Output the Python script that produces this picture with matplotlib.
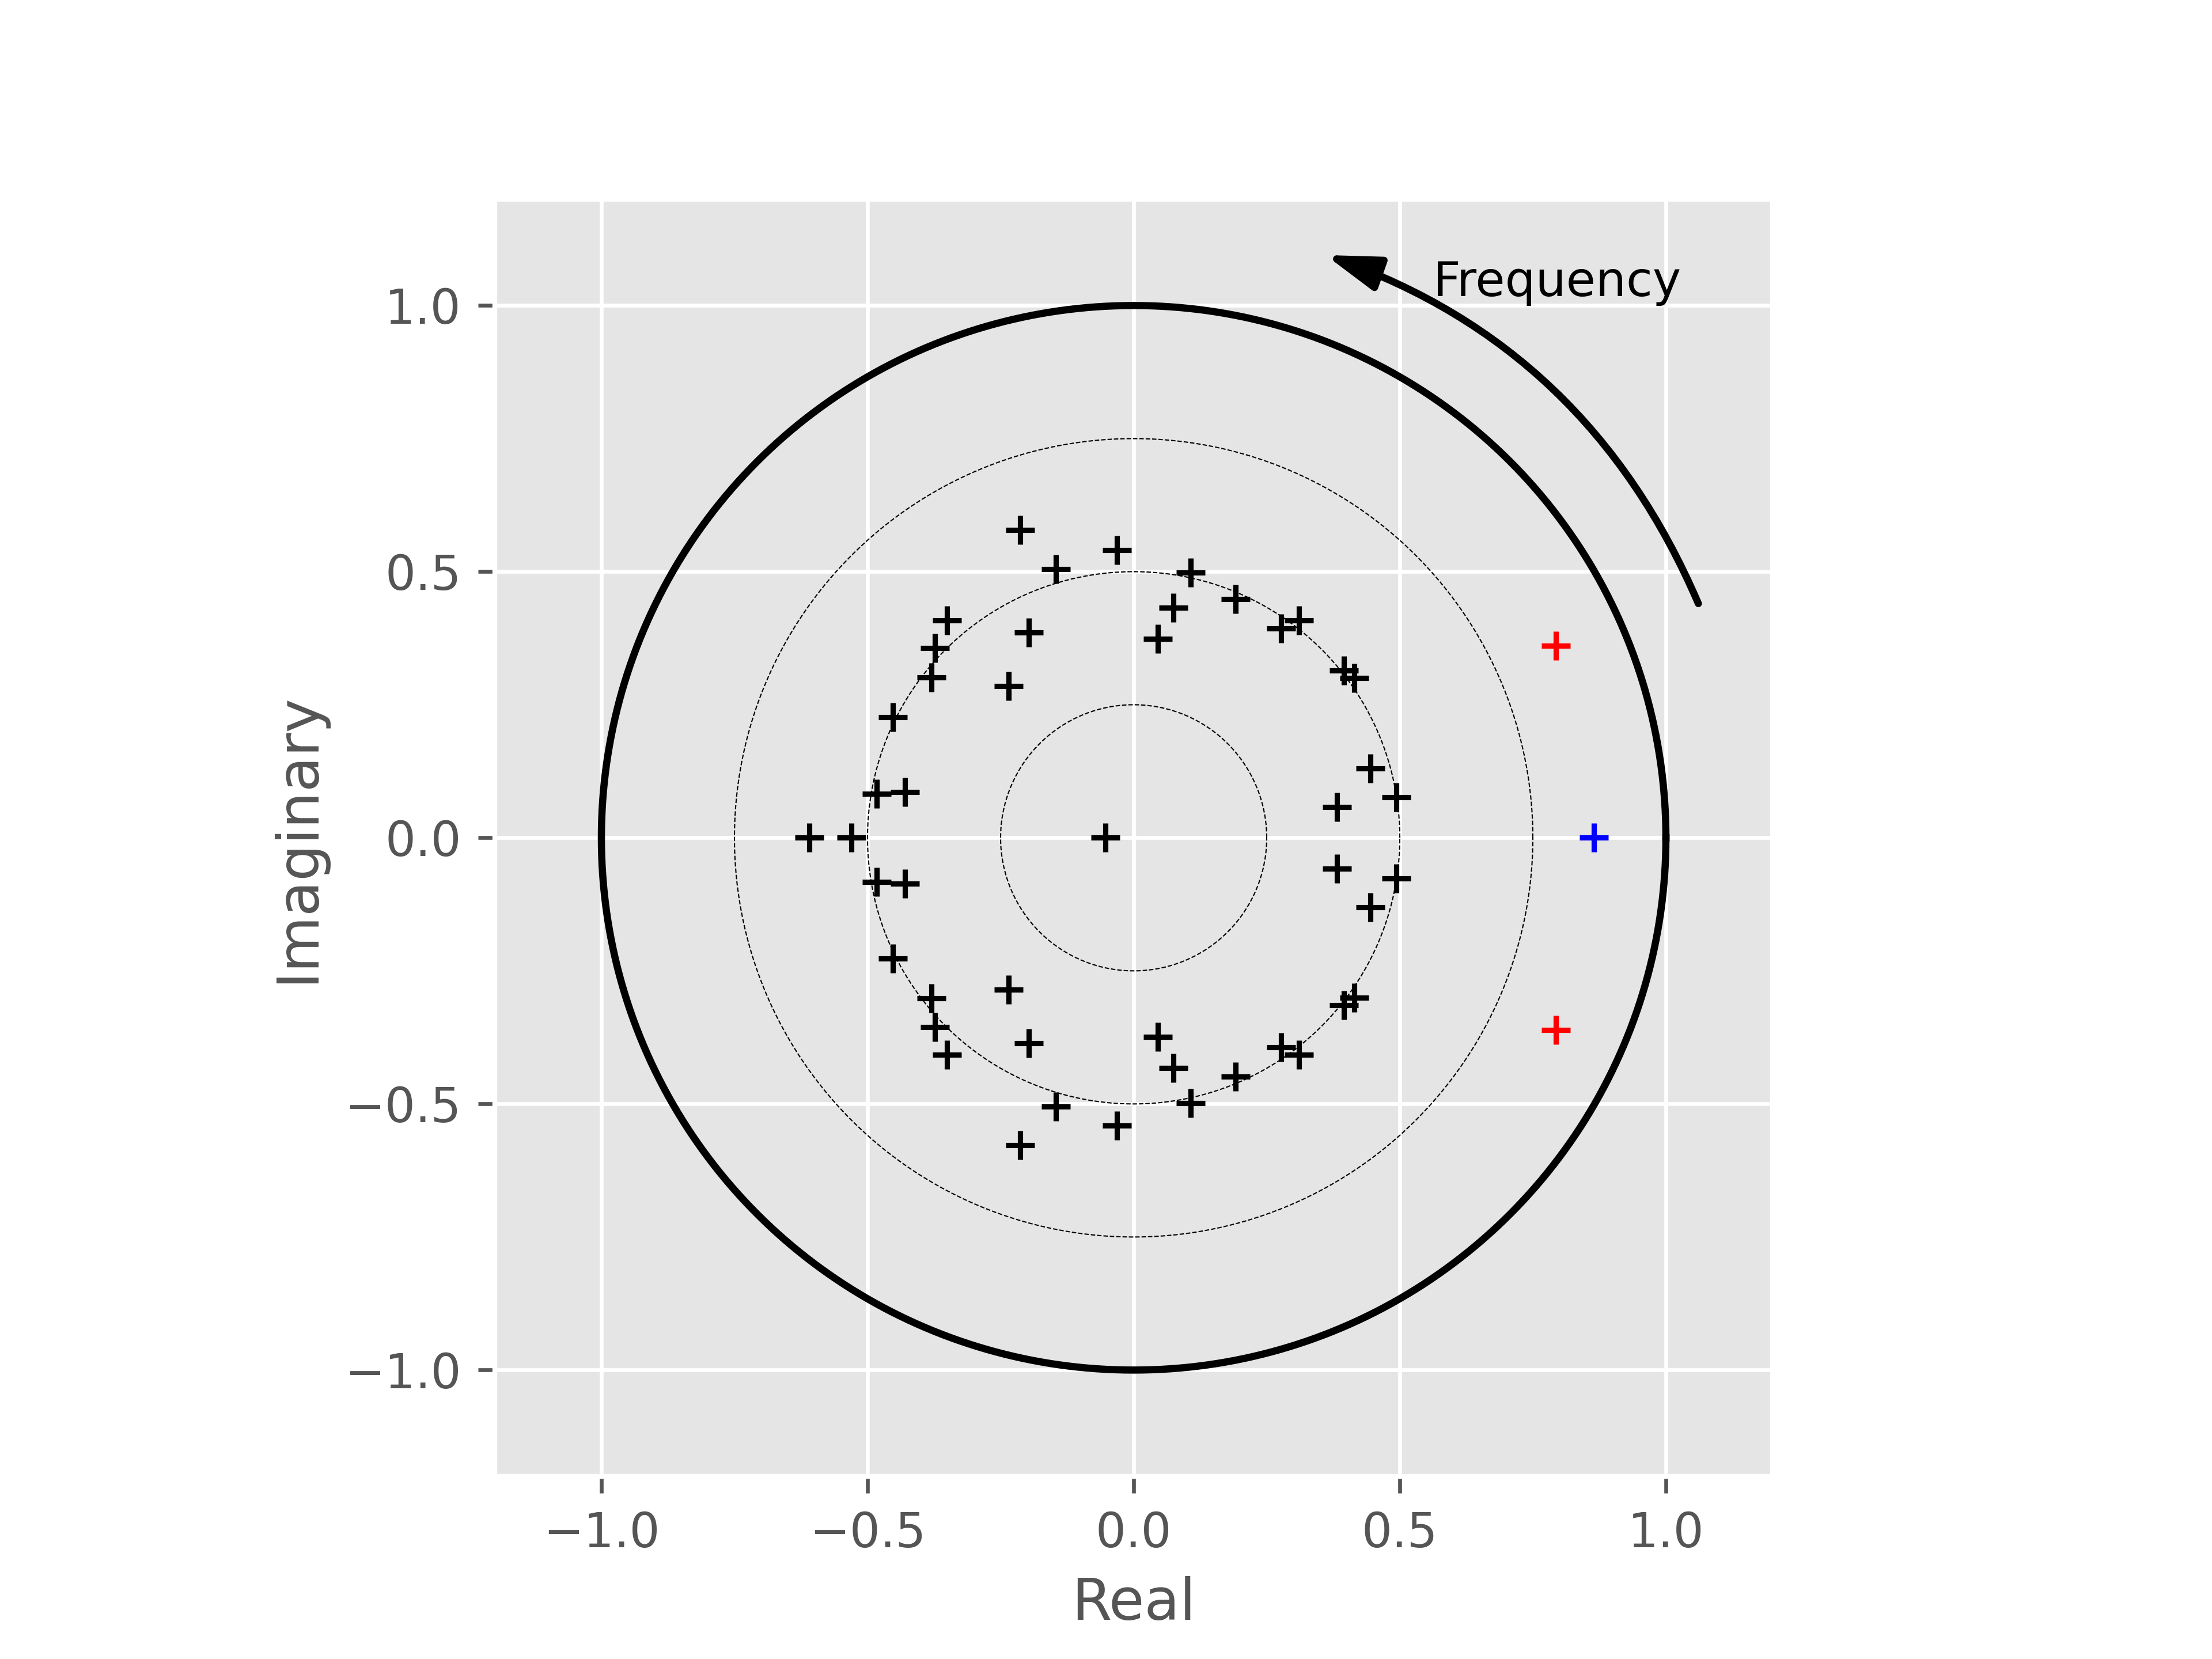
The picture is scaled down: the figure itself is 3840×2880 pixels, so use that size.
import numpy as np
import matplotlib
matplotlib.use("Agg")
import matplotlib.pyplot as plt

# Upper-half-plane roots (conjugate pairs); lower half mirrors these
pair_re = [-0.213, -0.031, -0.146, -0.351, -0.197, -0.373, -0.380, -0.235, -0.452, -0.483, -0.430,
           0.107, 0.0745, 0.045, 0.192, 0.277, 0.311, 0.395, 0.415, 0.445, 0.382, 0.493]
pair_im = [0.578, 0.541, 0.505, 0.408, 0.386, 0.356, 0.301, 0.285, 0.227, 0.083, 0.086,
           0.498, 0.432, 0.374, 0.449, 0.393, 0.408, 0.314, 0.300, 0.130, 0.058, 0.0765]
# Real roots
real_roots = [-0.609, -0.530, -0.053]
# Highlighted roots
red_re, red_im = 0.793, 0.361
blue_re = 0.865

circle_radii = [0.25, 0.5, 0.75]
ticks = [-1.0, -0.5, 0.0, 0.5, 1.0]

plt.style.use('ggplot')
fig, ax = plt.subplots(figsize=(6.4, 4.8), dpi=600)

theta = np.linspace(0, 2 * np.pi, 721)
ax.plot(np.cos(theta), np.sin(theta), color='black', lw=1.5)
for r in circle_radii:
    ax.plot(r * np.cos(theta), r * np.sin(theta), color='black', lw=0.25, ls='--')

pre = np.array(pair_re)
pim = np.array(pair_im)
xs = np.concatenate([pre, pre, real_roots])
ys = np.concatenate([pim, -pim, np.zeros(len(real_roots))])
ax.plot(xs, ys, ls='none', marker='+', color='black', ms=6, mew=1.1)
ax.plot([red_re, red_re], [red_im, -red_im], ls='none', marker='+', color='red', ms=6, mew=1.1)
ax.plot([blue_re], [0.0], ls='none', marker='+', color='blue', ms=6, mew=1.1)

ax.annotate('', xy=(0.3605, 1.0948), xytext=(1.061, 0.440),
            arrowprops=dict(arrowstyle='-|>,head_length=0.47,head_width=0.15',
                            connectionstyle='arc3,rad=0.22', color='black', lw=1.5,
                            mutation_scale=20, shrinkA=0, shrinkB=0))
ax.text(0.563, 1.018, 'Frequency', fontsize=10, color='black', va='baseline')

ax.set_xlim(-1.2, 1.2)
ax.set_ylim(-1.2, 1.2)
ax.set_aspect('equal')
ax.set_xticks(ticks)
ax.set_yticks(ticks)
ax.set_xlabel('Real')
ax.set_ylabel('Imaginary')

fig.savefig('out.png', dpi=600)
